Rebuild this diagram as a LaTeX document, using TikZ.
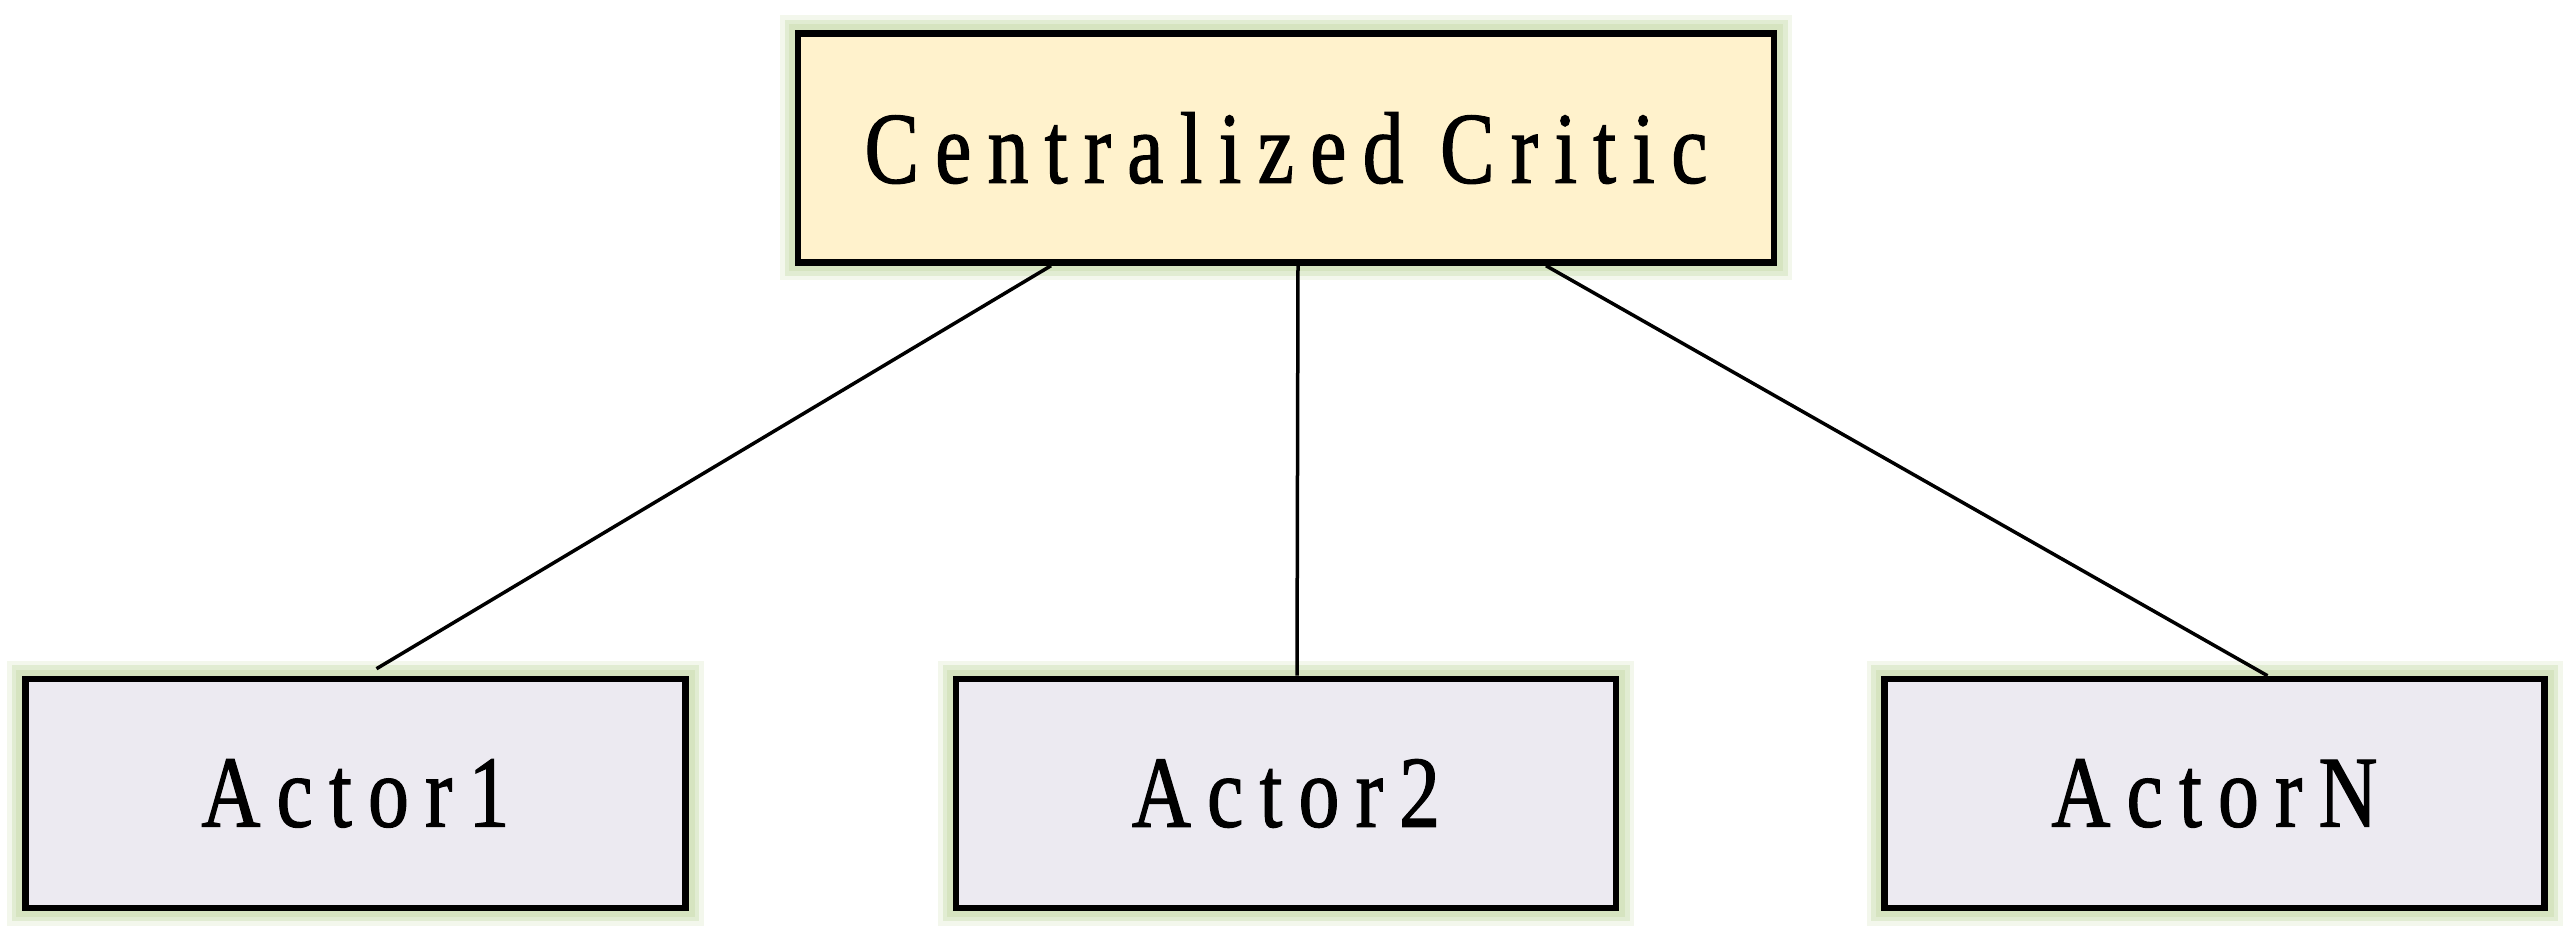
\documentclass[tikz,border=0pt]{standalone}
\usepackage{fontspec}
\usetikzlibrary{positioning}
\newfontfamily\boxfont{Liberation Serif}[FakeStretch=0.8,LetterSpace=16,FakeBold=1.2]
\definecolor{criticfill}{HTML}{FFF2CC}
\definecolor{actorfill}{HTML}{ECEAF1}
\definecolor{glow}{HTML}{D6E4C0}
\tikzset{
  glowbox/.style={draw=black, line width=0.065cm, inner sep=0pt,
    font=\boxfont\fontsize{29}{34}\selectfont,
    preaction={draw=glow, line width=0.36cm, rounded corners=0.15cm, opacity=0.3},
    preaction={draw=glow, line width=0.27cm, rounded corners=0.1cm, opacity=0.6},
    preaction={draw=glow, line width=0.18cm, rounded corners=0.05cm}},
  criticbox/.style={glowbox, fill=criticfill, minimum width=9.76cm, minimum height=2.29cm},
  actorbox/.style={glowbox, fill=actorfill, minimum width=6.6cm, minimum height=2.29cm},
  link/.style={draw=black, line width=0.035cm}
}
\begin{document}
\begin{tikzpicture}
  \useasboundingbox (0,0) rectangle (25.74,9.39);
  \node[criticbox] (critic) at (12.86,7.91) {Centralized Critic};
  \node[actorbox, below=4.1cm of critic] (actor2) {Actor2};
  \node[actorbox, left=2.64cm of actor2] (actor1) {Actor1};
  \node[actorbox, right=2.62cm of actor2] (actorN) {ActorN};
  \draw[link] ([xshift=-2.35cm]critic.south) -- ([xshift=0.21cm,yshift=0.07cm]actor1.north);
  \draw[link] ([xshift=0.12cm]critic.south) -- ([xshift=0.11cm]actor2.north);
  \draw[link] ([xshift=2.6cm]critic.south) -- ([xshift=0.53cm]actorN.north);
\end{tikzpicture}
\end{document}
